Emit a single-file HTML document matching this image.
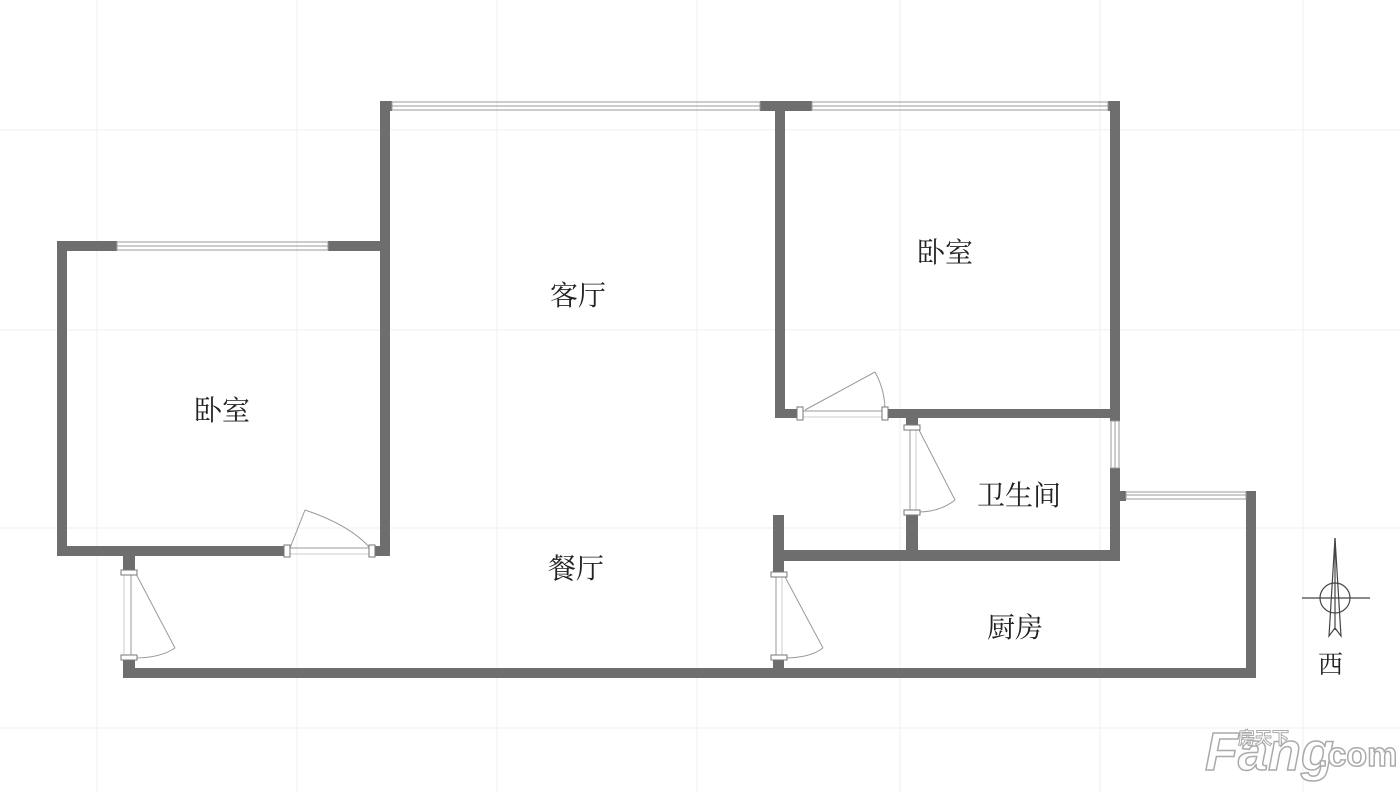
<!DOCTYPE html>
<html><head><meta charset="utf-8"><style>
html,body{margin:0;padding:0;background:#fff;}
svg{display:block}
text{font-family:"Liberation Serif","Noto Serif CJK SC",serif;fill:#222}
</style></head><body>
<svg width="1400" height="792" viewBox="0 0 1400 792" xmlns="http://www.w3.org/2000/svg">
<g stroke="#efefef" stroke-width="1">
<line x1="97" y1="0" x2="97" y2="792"/><line x1="297" y1="0" x2="297" y2="792"/><line x1="497" y1="0" x2="497" y2="792"/><line x1="697" y1="0" x2="697" y2="792"/><line x1="900" y1="0" x2="900" y2="792"/><line x1="1100" y1="0" x2="1100" y2="792"/><line x1="1303" y1="0" x2="1303" y2="792"/>
<line x1="0" y1="130" x2="1400" y2="130"/><line x1="0" y1="330" x2="1400" y2="330"/><line x1="0" y1="528" x2="1400" y2="528"/><line x1="0" y1="728" x2="1400" y2="728"/>
</g>
<g fill="#6e6e6e">
<rect x="380" y="101" width="10" height="455"/>
<rect x="380" y="101" width="12" height="10"/>
<rect x="760" y="101" width="52" height="10"/>
<rect x="1108" y="101" width="12" height="10"/>
<rect x="57" y="241" width="60" height="10"/>
<rect x="328" y="241" width="62" height="10"/>
<rect x="57" y="241" width="10" height="315"/>
<rect x="57" y="546" width="230" height="10"/>
<rect x="370" y="546" width="20" height="10"/>
<rect x="123" y="556" width="12" height="16"/>
<rect x="123" y="658" width="12" height="20"/>
<rect x="123" y="668" width="1133" height="10"/>
<rect x="775" y="101" width="10" height="317"/>
<rect x="775" y="409" width="27" height="9"/>
<rect x="885" y="409" width="235" height="9"/>
<rect x="1110" y="101" width="10" height="320"/>
<rect x="1110" y="468" width="10" height="93"/>
<rect x="906" y="418" width="12" height="10"/>
<rect x="906" y="512" width="12" height="42"/>
<rect x="775" y="550" width="345" height="11"/>
<rect x="773" y="515" width="11" height="60"/>
<rect x="773" y="658" width="11" height="12"/>
<rect x="1246" y="491" width="10" height="187"/>
<rect x="1120" y="491" width="6" height="10"/>
</g>
<g stroke="#999" stroke-width="1" fill="none">
<rect x="392" y="102" width="368" height="8"/><line x1="392" y1="106" x2="760" y2="106"/>
<rect x="812" y="102" width="296" height="8"/><line x1="812" y1="106" x2="1108" y2="106"/>
<rect x="117" y="242" width="211" height="8"/><line x1="117" y1="246" x2="328" y2="246"/>
<rect x="1111" y="421" width="8" height="47"/><line x1="1115" y1="421" x2="1115" y2="468"/>
<rect x="1126" y="492" width="120" height="7"/><line x1="1126" y1="495" x2="1246" y2="495"/>
<line x1="131" y1="572" x2="131" y2="658"/><line x1="124" y1="572" x2="124" y2="658" stroke="#ccc"/>
<line x1="135" y1="572" x2="175" y2="648"/><path d="M175,648 Q160,658 135,658"/>
<line x1="287" y1="548" x2="370" y2="548"/><line x1="287" y1="554" x2="370" y2="554" stroke="#ccc"/>
<line x1="290" y1="548" x2="305" y2="510"/><path d="M305,510 Q350,525 370,548"/>
<line x1="802" y1="411" x2="885" y2="411"/><line x1="802" y1="417" x2="885" y2="417" stroke="#ccc"/>
<line x1="805" y1="410" x2="875" y2="372"/><path d="M875,372 Q885,390 885,410"/>
<line x1="910" y1="428" x2="910" y2="512"/><line x1="916" y1="428" x2="916" y2="512" stroke="#ccc"/>
<line x1="918" y1="428" x2="955" y2="500"/><path d="M955,500 Q940,512 918,512"/>
<line x1="776" y1="575" x2="776" y2="658"/><line x1="782" y1="575" x2="782" y2="658" stroke="#ccc"/>
<line x1="784" y1="575" x2="823" y2="648"/><path d="M823,648 Q810,658 784,658"/>
</g>
<g fill="#fff" stroke="#777" stroke-width="1">
<rect x="121" y="570" width="16" height="5"/><rect x="121" y="655" width="16" height="5"/>
<rect x="284" y="545" width="6" height="12"/><rect x="369" y="545" width="6" height="12"/>
<rect x="797" y="407" width="6" height="13"/><rect x="882" y="407" width="6" height="13"/>
<rect x="904" y="425" width="16" height="5"/><rect x="904" y="510" width="16" height="5"/>
<rect x="771" y="572" width="16" height="5"/><rect x="771" y="655" width="16" height="5"/>
</g>
<g font-size="28">
<text x="550" y="305">客厅</text>
<text x="917" y="262">卧室</text>
<text x="194" y="420">卧室</text>
<text x="977" y="505">卫生间</text>
<text x="548" y="578">餐厅</text>
<text x="987" y="637">厨房</text>
<text x="1318" y="673" font-size="25">西</text>
</g>
<g stroke="#444" stroke-width="1.2" fill="none">
<line x1="1302" y1="598" x2="1370" y2="598"/>
<circle cx="1335" cy="598" r="15"/>
<path d="M1335,538 L1341,636 L1335,628 L1329,636 Z"/>
<line x1="1335" y1="538" x2="1335" y2="630"/>
</g>
<g stroke="#aaa" stroke-width="1.5">
<text x="1205" y="770" font-size="54" style="fill:#fff;font-family:'Liberation Sans',sans-serif;font-weight:bold;font-style:italic">Fang</text>
<text x="1318" y="766" font-size="34" style="fill:#fff;font-family:'Liberation Sans',sans-serif;font-weight:bold">.com</text>
<text x="1238" y="744" font-size="17" stroke-width="1" style="fill:#fff;font-family:'Noto Sans CJK SC',sans-serif;font-weight:bold">房天下</text>
</g>
</svg>
</body></html>
